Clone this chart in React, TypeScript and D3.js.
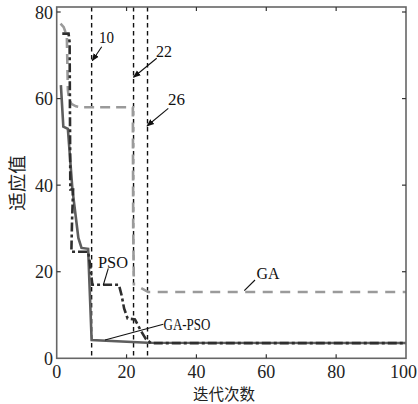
import React from "react";
import * as d3 from "d3";

const gaX = [1.1, 2, 2.9, 3.2, 3.5, 4.2, 5.5, 7, 21.8, 21.9, 22.1];
const gaY = [77.3, 76.5, 74.5, 62, 60, 58.8, 58.2, 58, 58, 30, 16.8];
const gaTailX = [24.2, 26.2, 100];
const gaTailY = [16.2, 15.3, 15.3];

const psoX = [1.6, 3.4, 3.7, 3.9, 4.7, 4.4, 4.2, 9, 9.5, 10.2, 17.8, 18.6, 19.3, 20.3, 22.4, 24, 25.5, 27, 100];
const psoY = [75, 75, 73, 39, 39, 32, 24.6, 24.6, 22, 17, 17, 14.5, 11.5, 9.2, 9, 6.5, 4.5, 3.5, 3.5];

const gapsoX = [1.2, 1.9, 3.2, 4.5, 6.2, 7.1, 9, 10, 26, 100];
const gapsoY = [63.1, 53.5, 53, 39, 27.8, 25.5, 25.3, 4.2, 3.6, 3.55];

const markIters = [10, 22, 26];
const xTicks = [0, 20, 40, 60, 80, 100];
const yTicks = [0, 20, 40, 60, 80];

const W = 418, H = 404;
const L = 56.7, R = 406, T = 7, B = 358.3;

export default function App() {
  const x = d3.scaleLinear().domain([0, 100]).range([L, R]);
  const y = d3.scaleLinear().domain([0, 80]).range([B, 12]);
  const line = d3.line<[number, number]>().x(d => x(d[0])).y(d => y(d[1]));
  const zip = (a: number[], b: number[]) => a.map((v, i) => [v, b[i]] as [number, number]);
  const serif = "'Liberation Serif', 'Times New Roman', Times, 'DejaVu Serif', serif";
  const cjk = "'Noto Sans CJK SC', sans-serif";
  const axisColor = "#666";
  return (
    <svg width={W} height={H} style={{ position: "absolute", left: 0, top: 0, background: "#fff" }}>
      <defs>
        <marker id="ah" viewBox="0 0 10 10" refX="9" refY="5" markerWidth="7" markerHeight="7" orient="auto">
          <path d="M0,1 L10,5 L0,9 z" fill="#111" />
        </marker>
      </defs>
      <rect x={0} y={0} width={W} height={H} fill="#fff" />
      {markIters.map(m => (
        <line key={m} x1={x(m)} x2={x(m)} y1={T} y2={B} stroke="#111" strokeWidth={1.4} strokeDasharray="4.5,3.5" />
      ))}
      <path d={line(zip(gaX, gaY)) || ""} fill="none" stroke="#9a9a9a" strokeWidth={2.6} strokeDasharray="10,6" />
      <path d={line(zip(gaTailX, gaTailY)) || ""} fill="none" stroke="#9a9a9a" strokeWidth={2.6} strokeDasharray="10,7.5" />
      <path d={line(zip(gapsoX, gapsoY)) || ""} fill="none" stroke="#5e5e5e" strokeWidth={2.6} />
      <path d={line(zip(psoX, psoY)) || ""} fill="none" stroke="#2e2e2e" strokeWidth={2.6} strokeDasharray="9,3,3,3" />
      <rect x={L} y={T} width={R - L} height={B - T} fill="none" stroke={axisColor} strokeWidth={1.6} />
      {xTicks.slice(1, -1).map(t => (
        <g key={"xt" + t}>
          <line x1={x(t)} x2={x(t)} y1={B} y2={B - 4} stroke="#333" strokeWidth={1.2} />
          <line x1={x(t)} x2={x(t)} y1={T} y2={T + 4} stroke="#333" strokeWidth={1.2} />
        </g>
      ))}
      {yTicks.slice(1).map(t => (
        <g key={"yt" + t}>
          <line x1={L} x2={L + 4} y1={y(t)} y2={y(t)} stroke="#333" strokeWidth={1.2} />
          <line x1={R} x2={R - 4} y1={y(t)} y2={y(t)} stroke="#333" strokeWidth={1.2} />
        </g>
      ))}
      {xTicks.map((t, i) => {
        const last = i === xTicks.length - 1;
        return (
          <text key={"xl" + t} x={last ? W - 1 : x(t)} y={378} textAnchor={last ? "end" : "middle"} fontFamily={serif} fontSize={18} fill="#222">{t}</text>
        );
      })}
      {yTicks.map(t => (
        <text key={"yl" + t} x={53} y={y(t) + 6.5} textAnchor="end" fontFamily={serif} fontSize={18} fill="#222">{t}</text>
      ))}
      <text x={224} y={400} textAnchor="middle" fontFamily={cjk} fontSize={15.5} fill="#222">迭代次数</text>
      <text transform="translate(24,183) rotate(-90)" textAnchor="middle" fontFamily={cjk} fontSize={18.5} fill="#222">适应值</text>
      <text x={99} y={43} fontFamily={serif} fontSize={16.5} fill="#111" textLength={15} lengthAdjust="spacingAndGlyphs">10</text>
      <line x1={101.7} y1={46.7} x2={92.3} y2={60.7} stroke="#111" strokeWidth={1.1} markerEnd="url(#ah)" />
      <text x={156} y={57} fontFamily={serif} fontSize={16.5} fill="#111" textLength={16} lengthAdjust="spacingAndGlyphs">22</text>
      <line x1={156.7} y1={58.3} x2={133.5} y2={77.3} stroke="#111" strokeWidth={1.1} markerEnd="url(#ah)" />
      <text x={168} y={105} fontFamily={serif} fontSize={16.5} fill="#111" textLength={17} lengthAdjust="spacingAndGlyphs">26</text>
      <line x1={168.3} y1={108.3} x2={147} y2={126} stroke="#111" strokeWidth={1.1} markerEnd="url(#ah)" />
      <text x={98} y={267.5} fontFamily={serif} fontSize={17.5} fill="#111" textLength={30} lengthAdjust="spacingAndGlyphs">PSO</text>
      <line x1={108.3} y1={268.3} x2={103.3} y2={285} stroke="#111" strokeWidth={1.1} />
      <text x={163.5} y={329.5} fontFamily={serif} fontSize={17.5} fill="#111" textLength={47} lengthAdjust="spacingAndGlyphs">GA-PSO</text>
      <line x1={163.3} y1={324.3} x2={105} y2={340} stroke="#111" strokeWidth={1.1} />
      <text x={256.5} y={279} fontFamily={serif} fontSize={17.5} fill="#111" textLength={23} lengthAdjust="spacingAndGlyphs">GA</text>
      <line x1={255} y1={280} x2={244.3} y2={290.7} stroke="#111" strokeWidth={1.1} />
    </svg>
  );
}
